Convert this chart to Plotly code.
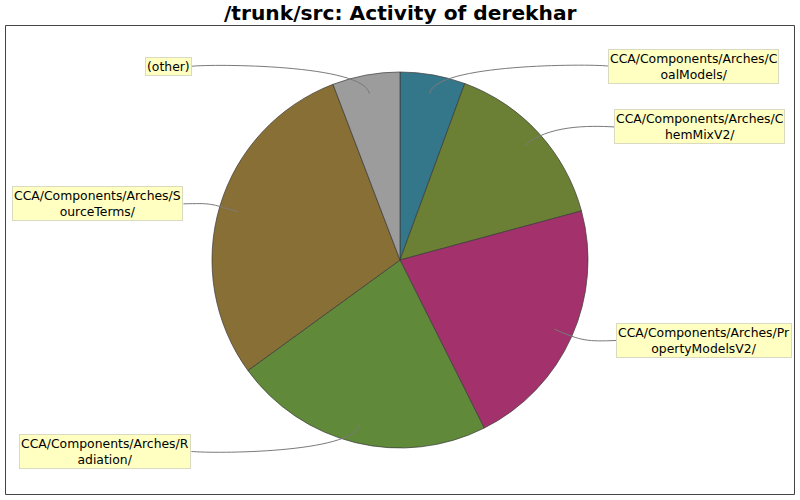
import math
import plotly.graph_objects as go

# ---- data ----
categories = [
    "CCA/Components/Arches/CoalModels/",
    "CCA/Components/Arches/ChemMixV2/",
    "CCA/Components/Arches/PropertyModelsV2/",
    "CCA/Components/Arches/Radiation/",
    "CCA/Components/Arches/SourceTerms/",
    "(other)",
]
values = [5.6, 15.2, 21.8, 22.4, 29.2, 5.8]
label_text = [
    "CCA/Components/Arches/C<br>oalModels/",
    "CCA/Components/Arches/C<br>hemMixV2/",
    "CCA/Components/Arches/Pr<br>opertyModelsV2/",
    "CCA/Components/Arches/R<br>adiation/",
    "CCA/Components/Arches/S<br>ourceTerms/",
    "(other)",
]
colors = ["#35778A", "#6B8034", "#A3326C", "#60893A", "#886F36", "#9C9C9C"]
title = "/trunk/src: Activity of derekhar"

# ---- layout geometry (pixels) ----
W, H = 800, 500
cx, cy, R = 400.0, 260.0, 188.0

fig = go.Figure()
# invisible cartesian layer so shapes/annotations can use pixel coordinates
fig.add_trace(go.Scatter(x=[], y=[], showlegend=False, hoverinfo="skip"))
fig.add_trace(go.Pie(
    labels=categories, values=values, sort=False, direction="clockwise",
    rotation=0, textinfo="none", hoverinfo="label+percent", showlegend=False,
    marker=dict(colors=colors, line=dict(color="#3a3a3a", width=0.7)),
    domain=dict(x=[(cx - R) / W, (cx + R) / W], y=[1 - (cy + R) / H, 1 - (cy - R) / H]),
))

total = sum(values)
shapes = [dict(type="rect", xref="x", yref="y", x0=5.5, y0=25.5, x1=794.5, y1=494.5,
               line=dict(color="#444444", width=1), fillcolor="rgba(0,0,0,0)", layer="below")]
annotations = []
cum = 0.0
for cat, v, txt in zip(categories, values, label_text):
    mid = (cum + v / 2) / total
    cum += v
    th = math.radians(mid * 360)
    s, c = math.sin(th), math.cos(th)
    right = s >= 0
    sign = 1 if right else -1
    # link point inside the pie, elbow just outside the pie
    lx, ly = cx + 0.9 * R * s, cy - 0.9 * R * c
    ex, ey = cx + 1.06 * R * s, cy - 1.06 * R * c
    ty = cy - 1.048 * R * c
    tx = cx + sign * (206 + 11 * abs(s))
    ax = cx + sign * R
    path = f"M {tx:.2f},{ty:.2f} C {ax:.2f},{ey:.2f} {ex:.2f},{ey:.2f} {lx:.2f},{ly:.2f}"
    shapes.append(dict(type="path", xref="x", yref="y", path=path,
                       line=dict(color="#7a7a7a", width=1), layer="above"))
    annotations.append(dict(
        x=tx, y=ty, xref="x", yref="y", text=txt, showarrow=False,
        xanchor="left" if right else "right", yanchor="middle", align="center",
        font=dict(family="DejaVu Sans", size=12.4, color="#000000"),
        bgcolor="#FFFFC2", bordercolor="#DADAC0", borderwidth=1, borderpad=1,
    ))

annotations.append(dict(
    x=0.5, y=1 - 12.5 / H, xref="paper", yref="paper", text=f"<b>{title}</b>",
    showarrow=False, xanchor="center", yanchor="middle",
    font=dict(family="DejaVu Sans", size=20.2, color="#000000"),
))

fig.update_layout(
    width=W, height=H, margin=dict(l=0, r=0, t=0, b=0),
    paper_bgcolor="white", plot_bgcolor="white",
    xaxis=dict(range=[0, W], visible=False, fixedrange=True, domain=[0, 1]),
    yaxis=dict(range=[H, 0], visible=False, fixedrange=True, domain=[0, 1]),
    shapes=shapes, annotations=annotations, showlegend=False,
)
fig.write_html("out.html", config={"displayModeBar": False},
               post_script="document.body.style.margin='0';document.body.style.overflow='hidden';")
